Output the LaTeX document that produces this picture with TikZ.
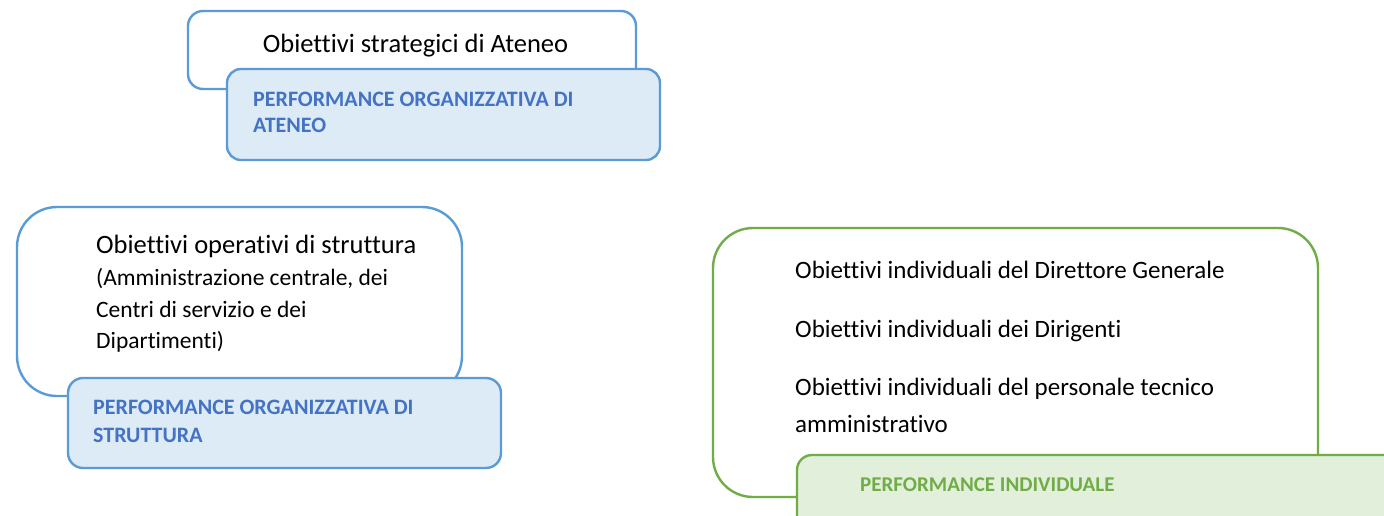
\documentclass[tikz,border=0pt]{standalone}
\usepackage{fontspec}
\setmainfont{Carlito}[Ligatures=NoCommon]
\definecolor{blueline}{HTML}{5B9BD5}
\definecolor{bluefill}{HTML}{DDEBF7}
\definecolor{bluetext}{HTML}{4472C4}
\definecolor{greenline}{HTML}{70AD47}
\definecolor{greenfill}{HTML}{E2EFDA}
\tikzset{
  panel/.style={draw, line width=2.4pt, inner sep=0pt, outer sep=0pt},
  bluepanel/.style={panel, draw=blueline, fill=white},
  bluetag/.style={panel, draw=blueline, fill=bluefill},
  greenpanel/.style={panel, draw=greenline, fill=white},
  greentag/.style={panel, draw=greenline, fill=greenfill},
  bigtxt/.style={anchor=base west, inner sep=0pt, font=\fontsize{26.5}{32}\selectfont},
  midtxt/.style={anchor=base west, inner sep=0pt, font=\fontsize{23.5}{28}\selectfont},
  greentxt/.style={anchor=base west, inner sep=0pt, font=\fontsize{25}{30}\selectfont},
  bluetagtxt/.style={anchor=base west, inner sep=0pt, text=bluetext, font=\fontsize{22}{26}\selectfont\bfseries},
  greentagtxt/.style={anchor=base west, inner sep=0pt, text=greenline, font=\fontsize{21}{25}\selectfont\bfseries}
}
\begin{document}
\begin{tikzpicture}[x=1pt,y=1pt]
\useasboundingbox (0,0) rectangle (1384,515);
\fill[white] (0,0) rectangle (1384,515);
\clip (0,0) rectangle (1384,515);
% Ateneo
\node[bluepanel, rounded corners=15pt, minimum width=448pt, minimum height=78pt] (strat) at (412,465) {};
\node[bluetag, rounded corners=14pt, minimum width=433pt, minimum height=91pt] (perfat) at (443.5,400.5) {};
\node[bigtxt, anchor=base] (strattxt) at (415.5,462) {Obiettivi strategici di Ateneo};
\node[bluetagtxt] (perfat1) at (253,408) {PERFORMANCE ORGANIZZATIVA DI};
\node[bluetagtxt] (perfat2) at (253,382) {ATENEO};
% Struttura
\node[bluepanel, rounded corners=40pt, minimum width=445pt, minimum height=189pt] (oper) at (239.5,213.5) {};
\node[bluetag, rounded corners=15pt, minimum width=433pt, minimum height=90pt] (perfst) at (284.5,92) {};
\node[bigtxt] (oper1) at (96,262) {Obiettivi operativi di struttura};
\node[midtxt] (oper2) at (96,230) {(Amministrazione centrale, dei};
\node[midtxt] (oper3) at (96,198) {Centri di servizio e dei};
\node[midtxt] (oper4) at (96,167) {Dipartimenti)};
\node[bluetagtxt] (perfst1) at (93,101) {PERFORMANCE ORGANIZZATIVA DI};
\node[bluetagtxt] (perfst2) at (93,73) {STRUTTURA};
% Individuale
\node[greenpanel, rounded corners=40pt, minimum width=605pt, minimum height=269pt] (indiv) at (1015.5,152.5) {};
\node[greentag, rounded corners=15pt, minimum width=640pt, minimum height=90pt] (perfin) at (1117,15) {};
\node[greentxt] (ind1) at (795,237) {Obiettivi individuali del Direttore Generale};
\node[greentxt] (ind2) at (795,178) {Obiettivi individuali dei Dirigenti};
\node[greentxt] (ind3) at (795,120) {Obiettivi individuali del personale tecnico};
\node[greentxt] (ind4) at (795,83) {amministrativo};
\node[greentagtxt] (perfin1) at (860,24) {PERFORMANCE INDIVIDUALE};
\end{tikzpicture}
\end{document}
